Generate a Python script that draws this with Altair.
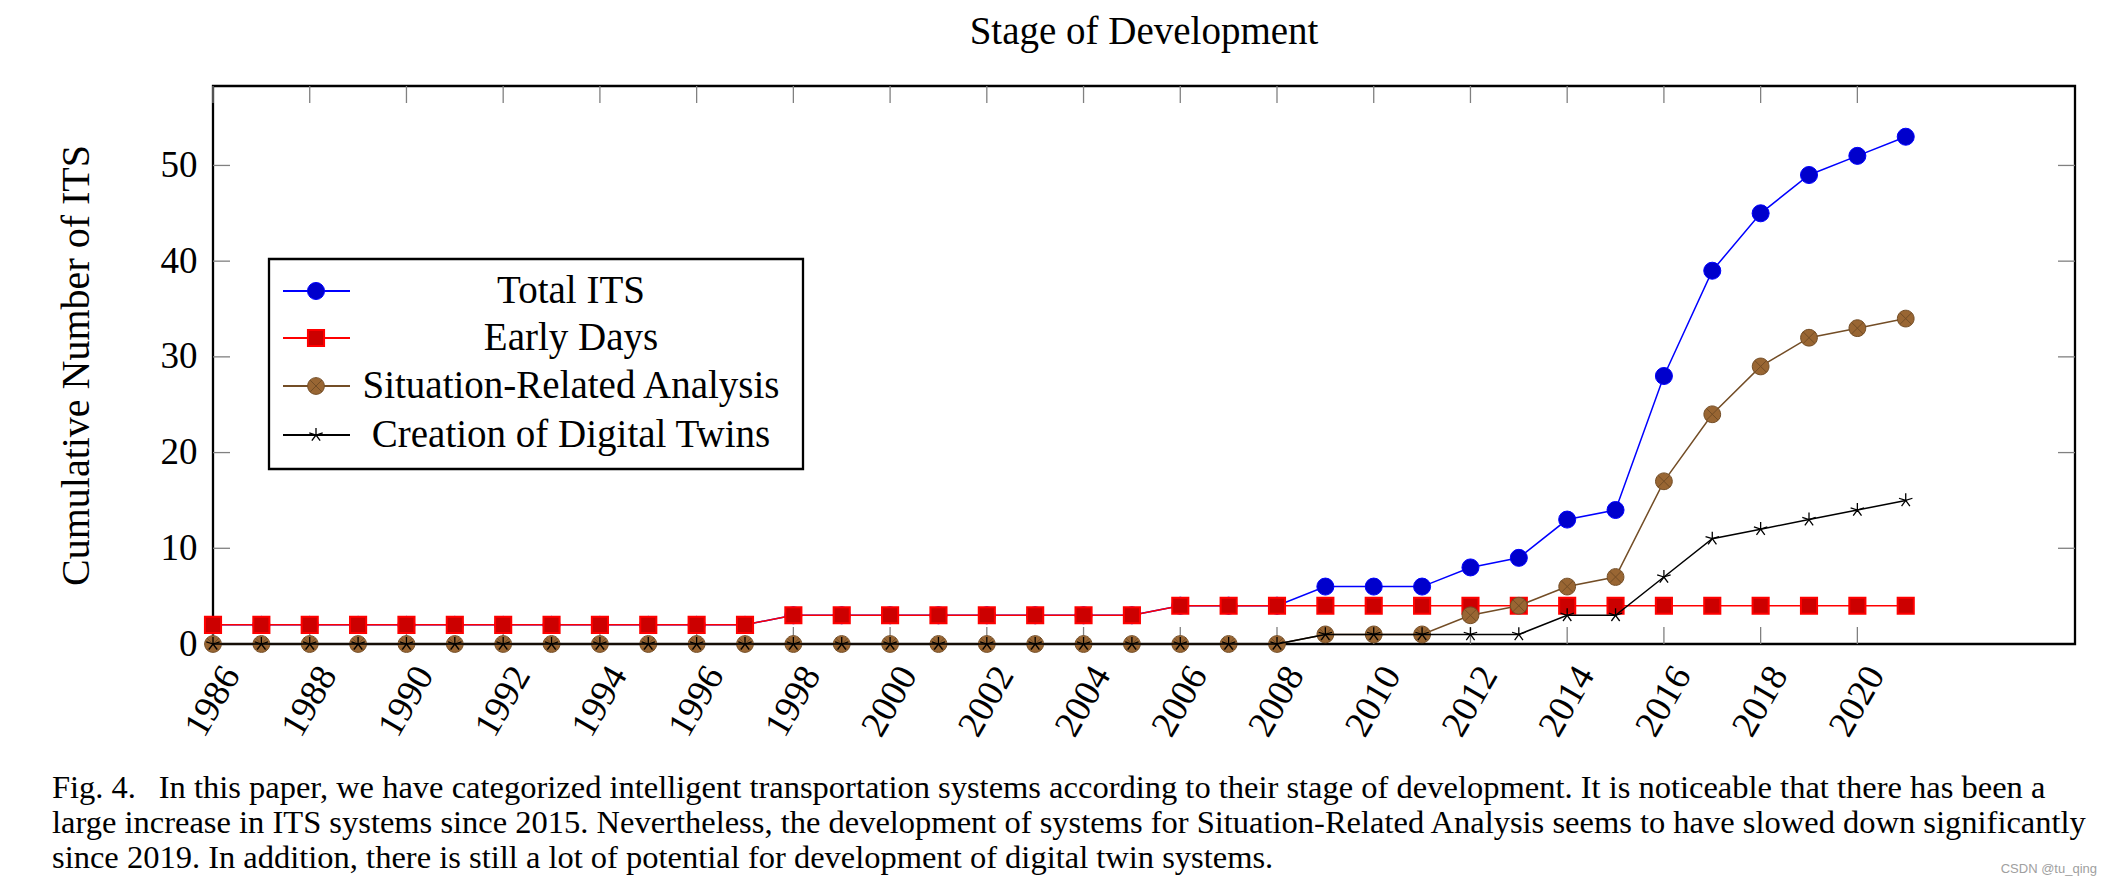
import altair as alt
import pandas as pd

# ---------------- data ----------------
years = [1986, 1987, 1988, 1989, 1990, 1991, 1992, 1993, 1994, 1995, 1996, 1997,
         1998, 1999, 2000, 2001, 2002, 2003, 2004, 2005, 2006, 2007, 2008, 2009,
         2010, 2011, 2012, 2013, 2014, 2015, 2016, 2017, 2018, 2019, 2020, 2021]
total_its = [2, 2, 2, 2, 2, 2, 2, 2, 2, 2, 2, 2,
             3, 3, 3, 3, 3, 3, 3, 3, 4, 4, 4, 6,
             6, 6, 8, 9, 13, 14, 28, 39, 45, 49, 51, 53]
early_days = [2, 2, 2, 2, 2, 2, 2, 2, 2, 2, 2, 2,
              3, 3, 3, 3, 3, 3, 3, 3, 4, 4, 4, 4,
              4, 4, 4, 4, 4, 4, 4, 4, 4, 4, 4, 4]
situation = [0, 0, 0, 0, 0, 0, 0, 0, 0, 0, 0, 0,
             0, 0, 0, 0, 0, 0, 0, 0, 0, 0, 0, 1,
             1, 1, 3, 4, 6, 7, 17, 24, 29, 32, 33, 34]
digital_twins = [0, 0, 0, 0, 0, 0, 0, 0, 0, 0, 0, 0,
                 0, 0, 0, 0, 0, 0, 0, 0, 0, 0, 0, 1,
                 1, 1, 1, 1, 3, 3, 7, 11, 12, 13, 14, 15]

series_names = ["Total ITS", "Early Days", "Situation-Related Analysis", "Creation of Digital Twins"]
series_values = [total_its, early_days, situation, digital_twins]

x_tick_values = [1986, 1988, 1990, 1992, 1994, 1996, 1998, 2000, 2002, 2004,
                 2006, 2008, 2010, 2012, 2014, 2016, 2018, 2020]
y_tick_values = [0, 10, 20, 30, 40, 50]
y_inner_ticks = [10, 20, 30, 40, 50]

title_text = "Stage of Development"
y_title = "Cumulative Number of ITS"
caption_lines = [
    "Fig. 4.\u2002\u2009In this paper, we have categorized intelligent transportation systems according to their stage of development. It is noticeable that there has been a",
    "large increase in ITS systems since 2015. Nevertheless, the development of systems for Situation-Related Analysis seems to have slowed down significantly",
    "since 2019. In addition, there is still a lot of potential for development of digital twin systems.",
]
watermark = "CSDN @tu_qing"

# ---------------- styles ----------------
SERIF = "Liberation Serif"
W, H = 1862, 558

STAR = "M0,0L0,-1M0,0L0.951,-0.309M0,0L0.588,0.809M0,0L-0.588,0.809M0,0L-0.951,-0.309"
OTIMES = ("M1,0A1,1 0 1,1 -1,0A1,1 0 1,1 1,0Z"
          "M-0.707,-0.707L0.707,0.707M-0.707,0.707L0.707,-0.707")

styles = [
    dict(line="#0000ff", shape="circle", fill="#0000cc", stroke="#0000ff", size=290, sw=1.0),
    dict(line="#ff0000", shape="square", fill="#cc0000", stroke="#ff0000", size=260, sw=2.0),
    dict(line="#734d26", shape=OTIMES, fill="#996633", stroke="#734d26", size=280, sw=1.0),
    dict(line="#000000", shape=STAR, fill="transparent", stroke="#000000", size=200, sw=1.3),
]

xscale = alt.Scale(domain=[1986, 2024.5], nice=False, zero=False)
yscale = alt.Scale(domain=[0, 58.3], nice=False, zero=True)

xaxis = alt.Axis(values=x_tick_values, format="d", labelAngle=-60, labelFont=SERIF,
                 labelFontSize=37, labelColor="black", labelPadding=25, labelOffset=18,
                 labelAlign="right", labelBaseline="middle",
                 ticks=False, tickSize=0, domain=False, grid=False, labelOverlap=False,
                 labelFlush=False)
yaxis = alt.Axis(values=y_tick_values, labelFont=SERIF, labelFontSize=37, labelColor="black",
                 labelPadding=16, ticks=False, tickSize=0, domain=False, grid=False,
                 titleFont=SERIF, titleFontSize=40, titleFontWeight="normal", titleColor="black",
                 titleX=-137, titleY=H / 2, titleAngle=270, titleAlign="center",
                 titleBaseline="middle", labelFlush=False)


def X(field):
    return alt.X(field, type="quantitative", scale=xscale, axis=xaxis, title=None)


def Y(field):
    return alt.Y(field, type="quantitative", scale=yscale, axis=yaxis, title=y_title)


layers = []

# inner ticks (pgfplots style)
xt = pd.DataFrame({"t": x_tick_values})
yt = pd.DataFrame({"v": y_inner_ticks})
TICK = dict(color="#808080", strokeWidth=1.3)
TL = 17
layers.append(alt.Chart(xt).mark_rule(**TICK).encode(x=X("t"), y=alt.value(H), y2=alt.value(H - TL)))
layers.append(alt.Chart(xt).mark_rule(**TICK).encode(x=X("t"), y=alt.value(0), y2=alt.value(TL)))
layers.append(alt.Chart(yt).mark_rule(**TICK).encode(y=Y("v"), x=alt.value(0), x2=alt.value(TL)))
layers.append(alt.Chart(yt).mark_rule(**TICK).encode(y=Y("v"), x=alt.value(W), x2=alt.value(W - TL)))

# series
for name, vals, st in zip(series_names, series_values, styles):
    df = pd.DataFrame({"year": years, "value": vals, "series": name})
    layers.append(alt.Chart(df).mark_line(color=st["line"], strokeWidth=1.5).encode(
        x=X("year"), y=Y("value")))
    layers.append(alt.Chart(df).mark_point(shape=st["shape"], fill=st["fill"], stroke=st["stroke"],
                                           strokeWidth=st["sw"], size=st["size"], opacity=1,
                                           filled=False).encode(x=X("year"), y=Y("value")))

# legend (manual, pgfplots look)
box = pd.DataFrame({"k": [0]})
layers.append(alt.Chart(box).mark_rect(fill="white", stroke="black", strokeWidth=2.3).encode(
    x=alt.value(56), x2=alt.value(590), y=alt.value(173), y2=alt.value(383)))
row_y = [205, 252, 300, 349]
for name, st, ry in zip(series_names, styles, row_y):
    d = pd.DataFrame({"label": [name]})
    layers.append(alt.Chart(d).mark_rule(color=st["line"], strokeWidth=2).encode(
        x=alt.value(70), x2=alt.value(137), y=alt.value(ry)))
    layers.append(alt.Chart(d).mark_point(shape=st["shape"], fill=st["fill"], stroke=st["stroke"],
                                          strokeWidth=st["sw"], size=st["size"], opacity=1,
                                          filled=False).encode(x=alt.value(103), y=alt.value(ry)))
    layers.append(alt.Chart(d).mark_text(font=SERIF, fontSize=39, color="black", align="center",
                                         baseline="middle").encode(
        x=alt.value(358), y=alt.value(ry), text="label:N"))

# title, caption and watermark as text
one = pd.DataFrame({"k": [0]})
layers.append(alt.Chart(one).mark_text(font=SERIF, fontSize=39, color="black", align="center",
                                       baseline="alphabetic").encode(
    x=alt.value(W / 2), y=alt.value(44 - 86), text=alt.value(title_text)))
layers.append(alt.Chart(one).mark_text(font=SERIF, fontSize=32.5, color="black", align="left",
                                       baseline="alphabetic", lineHeight=35).encode(
    x=alt.value(52 - 213), y=alt.value(798 - 86), text=alt.value(caption_lines)))
layers.append(alt.Chart(one).mark_text(font="Liberation Sans", fontSize=13, color="#a0a0a0",
                                       align="right", baseline="middle").encode(
    x=alt.value(2097 - 213), y=alt.value(869 - 86), text=alt.value(watermark)))

chart = alt.layer(*layers).properties(
    width=W, height=H,
    background="white",
    autosize=alt.AutoSizeParams(type="none"),
    padding={"left": 205, "top": 78, "right": 28, "bottom": 232},
).configure_view(stroke="black", strokeWidth=2.3)

chart.save("out.html", embed_options={"renderer": "svg", "actions": False})
